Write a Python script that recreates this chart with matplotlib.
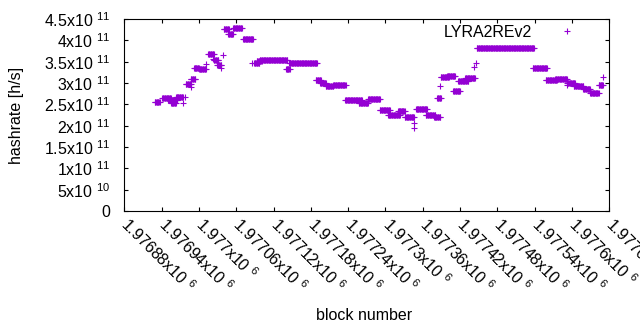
import numpy as np
import matplotlib
matplotlib.use("Agg")
import matplotlib.pyplot as plt
from matplotlib.ticker import FixedLocator

plt.rcParams['font.family'] = ['Liberation Sans', 'DejaVu Sans']
plt.rcParams['mathtext.fontset'] = 'custom'
plt.rcParams['mathtext.rm'] = 'Liberation Sans'
plt.rcParams['mathtext.it'] = 'Liberation Sans:italic'
plt.rcParams['mathtext.bf'] = 'Liberation Sans:bold'

# runs of blocks sharing the same hashrate estimate
run_start = [1976929, 1976941, 1976950, 1976955, 1976963, 1976974, 1976978, 1976979,
             1976987, 1976987, 1976992, 1977000, 1977011, 1977015, 1977023, 1977024,
             1977029, 1977036, 1977039, 1977040, 1977047, 1977055, 1977071, 1977085,
             1977089, 1977093, 1977098, 1977140, 1977145, 1977188, 1977195, 1977204,
             1977216, 1977235, 1977257, 1977272, 1977291, 1977304, 1977320, 1977331,
             1977346, 1977346, 1977349, 1977365, 1977378, 1977383, 1977388, 1977389,
             1977399, 1977409, 1977417, 1977428, 1977442, 1977446, 1977447, 1977537,
             1977558, 1977573, 1977592, 1977592, 1977603, 1977618, 1977629, 1977643,
             1977650]
run_end = [1976937, 1976955, 1976965, 1976963, 1976974, 1976974, 1976978, 1976987,
           1976987, 1976994, 1977000, 1977011, 1977011, 1977024, 1977023, 1977031,
           1977036, 1977036, 1977039, 1977048, 1977055, 1977069, 1977087, 1977085,
           1977097, 1977101, 1977142, 1977146, 1977190, 1977196, 1977204, 1977216,
           1977236, 1977262, 1977272, 1977291, 1977307, 1977323, 1977331, 1977346,
           1977346, 1977346, 1977367, 1977380, 1977388, 1977389, 1977388, 1977402,
           1977412, 1977420, 1977433, 1977444, 1977442, 1977446, 1977539, 1977560,
           1977576, 1977592, 1977592, 1977605, 1977618, 1977629, 1977643, 1977650,
           1977650]
run_hashrate = [2.55e11, 2.64e11, 2.60e11, 2.53e11, 2.67e11, 2.53e11, 2.67e11, 2.98e11,
                2.91e11, 3.09e11, 3.36e11, 3.32e11, 3.44e11, 3.68e11, 3.56e11, 3.55e11,
                3.43e11, 3.35e11, 3.66e11, 4.27e11, 4.14e11, 4.30e11, 4.03e11, 3.47e11,
                3.46e11, 3.52e11, 3.55e11, 3.32e11, 3.46e11, 3.07e11, 2.99e11, 2.94e11,
                2.95e11, 2.60e11, 2.52e11, 2.62e11, 2.37e11, 2.25e11, 2.34e11, 2.20e11,
                2.06e11, 1.95e11, 2.39e11, 2.24e11, 2.21e11, 2.64e11, 2.93e11, 3.13e11,
                3.16e11, 2.81e11, 3.04e11, 3.12e11, 3.38e11, 3.47e11, 3.83e11, 3.35e11,
                3.07e11, 3.09e11, 2.95e11, 3.00e11, 2.93e11, 2.86e11, 2.77e11, 2.95e11,
                3.14e11]

x_ticks = [1976880, 1976940, 1977000, 1977060, 1977120, 1977180, 1977240, 1977300,
           1977360, 1977420, 1977480, 1977540, 1977600, 1977660]
y_ticks = [0, 5e10, 1e11, 1.5e11, 2e11, 2.5e11, 3e11, 3.5e11, 4e11, 4.5e11]
series_name = "LYRA2REv2"

blocks = np.concatenate([np.arange(s, e + 1) for s, e in zip(run_start, run_end)])
rates = np.concatenate([np.full(e - s + 1, v) for s, e, v in zip(run_start, run_end, run_hashrate)])

def sci_label(v):
    if v == 0:
        return "0"
    exp = int(np.floor(np.log10(v) + 1e-9))
    mant = v / 10 ** exp
    return f"{mant:g}x10 $^{{{exp}}}$"

FS = 11.5
color = "#9400D3"
fig = plt.figure(figsize=(6.4, 3.3), dpi=100)
ax = fig.add_axes([124.3 / 640, 1 - 211 / 330, 485 / 640, 192 / 330])

ax.plot(blocks, rates, linestyle='none', marker='+', markersize=5, markeredgewidth=0.8,
        color=color, label=series_name)

ax.set_xlim(x_ticks[0], x_ticks[-1])
ax.set_ylim(y_ticks[0], y_ticks[-1])
ax.xaxis.set_major_locator(FixedLocator(x_ticks))
ax.yaxis.set_major_locator(FixedLocator(y_ticks))
ax.set_xticklabels([sci_label(v) for v in x_ticks], rotation=-45, ha='left', va='center',
                   rotation_mode='anchor', fontsize=FS)
ax.set_yticklabels([sci_label(v) for v in y_ticks], fontsize=FS)
ax.tick_params(direction='in', length=3, width=0.8, top=True, right=True)
ax.tick_params(axis='y', pad=10)
ax.tick_params(axis='x', pad=7)
for sp in ax.spines.values():
    sp.set_linewidth(0.8)

fig.text(17 / 640, 1 - 115 / 330, "hashrate [h/s]", rotation=90, ha='center', va='center', fontsize=FS)
fig.text(364 / 640, 1 - 316 / 330, "block number", ha='center', va='center', fontsize=FS)

ax.legend(loc='center right', bbox_to_anchor=(0.970, 0.932), markerfirst=False,
          frameon=False, numpoints=1, handlelength=3.5, handletextpad=0.4,
          borderpad=0, borderaxespad=0, fontsize=FS)

fig.savefig("out.png", dpi=100)
